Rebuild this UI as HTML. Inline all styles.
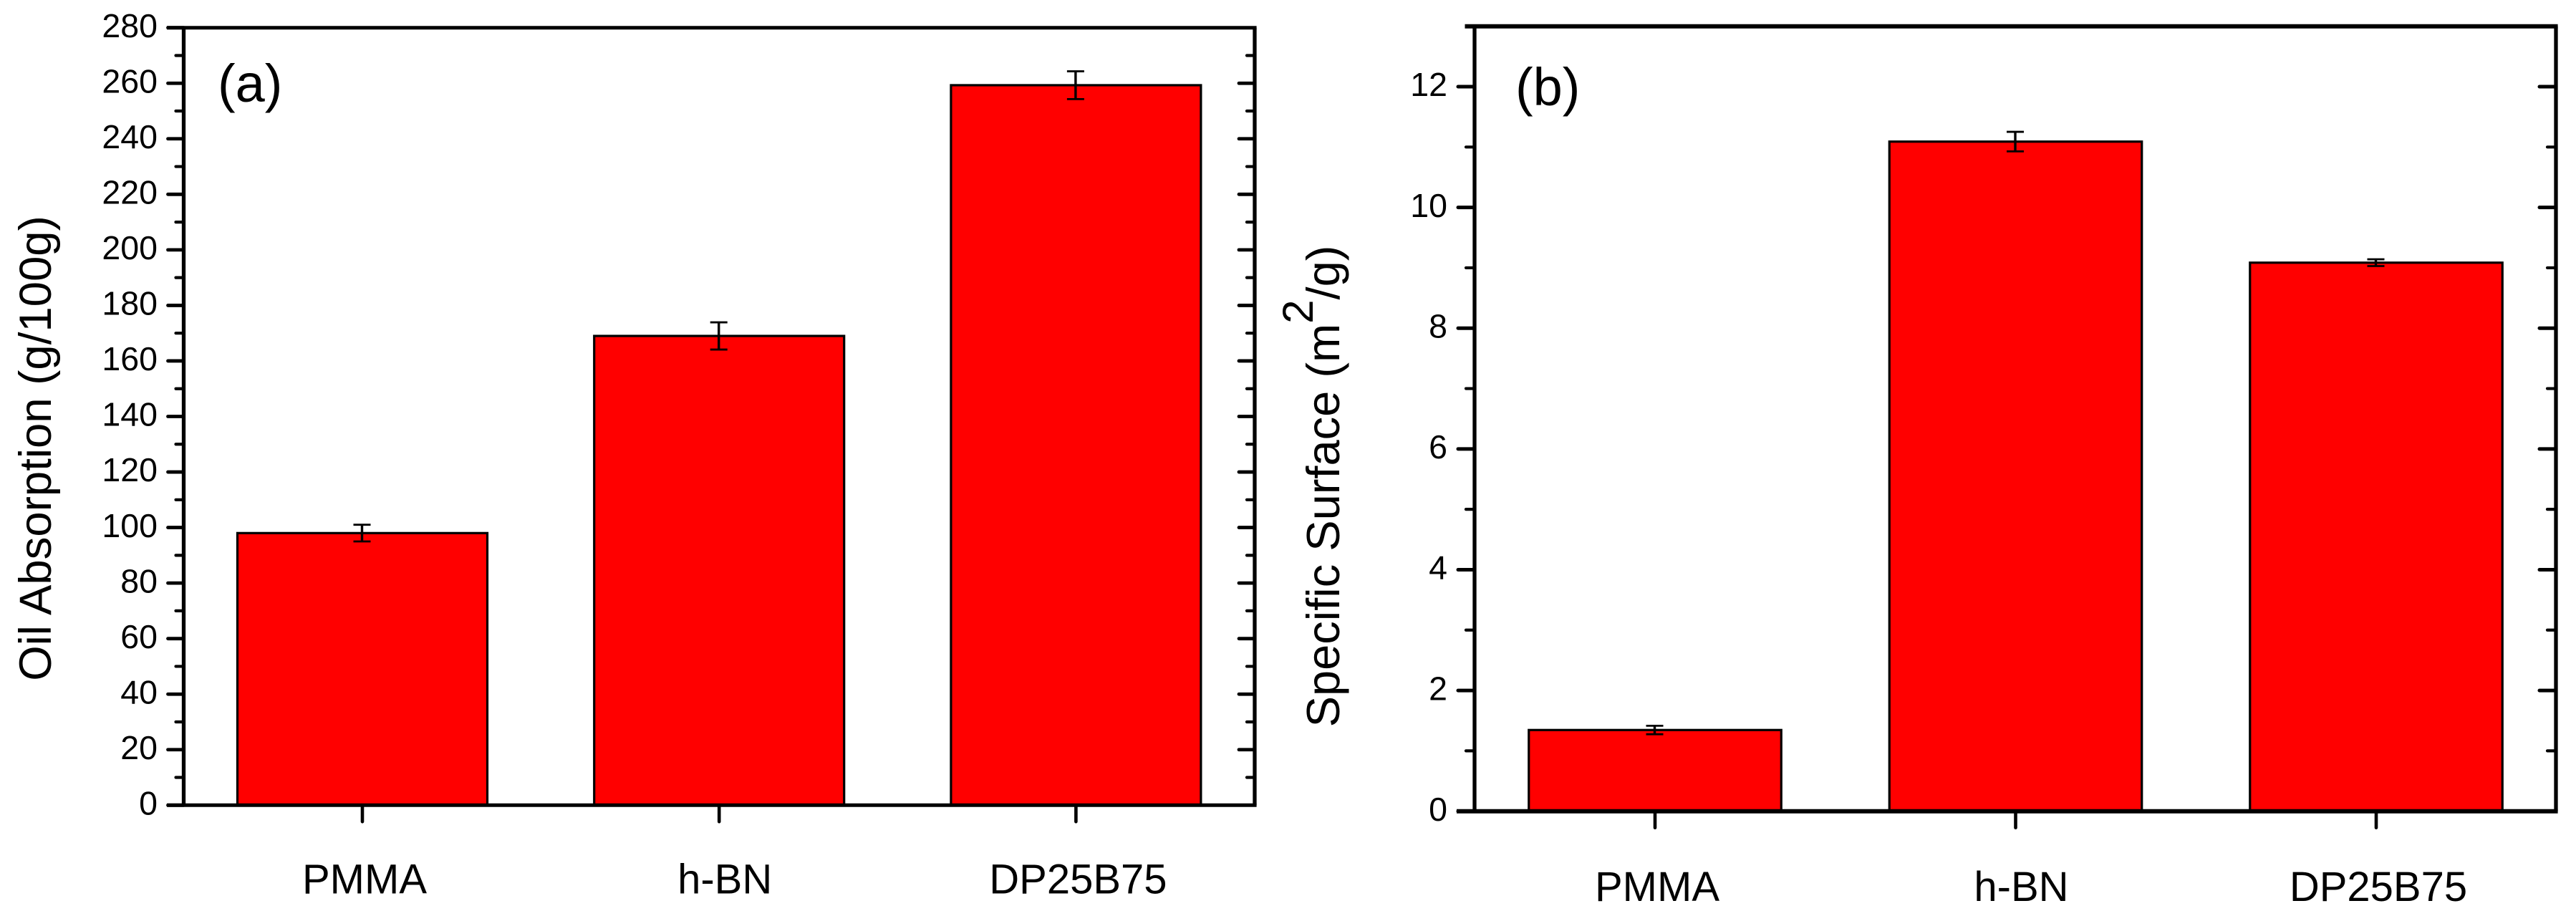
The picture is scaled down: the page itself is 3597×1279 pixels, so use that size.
<!DOCTYPE html>
<html lang="en">
<head>
<meta charset="utf-8">
<title>Oil absorption and specific surface bar charts</title>
<style>
html,body{margin:0;padding:0;background:#fff;}
svg{display:block;}
text{font-family:"Liberation Sans",Arial,sans-serif;fill:#000;}
</style>
</head>
<body>
<svg id="figure" xmlns="http://www.w3.org/2000/svg" width="3597" height="1279" viewBox="0 0 3597 1279">
  <rect x="0" y="0" width="3597" height="1279" fill="#fff"/>
  <g id="panel-a"></g>
  <g id="panel-b"></g>
  <text x="304" y="142" font-size="74">(a)</text>
  <text x="2116" y="147" font-size="74">(b)</text>
  <text transform="translate(71,626) rotate(-90)" text-anchor="middle" font-size="63.5">Oil Absorption (g/100g)</text>
  <text transform="translate(1870,679) rotate(-90)" text-anchor="middle" font-size="65">Specific Surface (m<tspan font-size="60" dy="-37">2</tspan><tspan dy="37">/g)</tspan></text>
</svg>
<script>
const categories = ['PMMA', 'h-BN', 'DP25B75'];
const oilValues = [98, 169, 259.3];
const oilErrors = [3, 4.9, 5];
const surfaceValues = [1.345, 11.09, 9.085];
const surfaceErrors = [0.07, 0.162, 0.056];
const oilMajorTicks = [0, 20, 40, 60, 80, 100, 120, 140, 160, 180, 200, 220, 240, 260, 280];
const oilMinorTicks = [10, 30, 50, 70, 90, 110, 130, 150, 170, 190, 210, 230, 250, 270];
const surfaceMajorTicks = [0, 2, 4, 6, 8, 10, 12];
const surfaceMinorTicks = [1, 3, 5, 7, 9, 11, 13];

const SVG_NS = 'http://www.w3.org/2000/svg';

function add(parent, tag, attrs, content) {
  const el = document.createElementNS(SVG_NS, tag);
  for (const key in attrs) { el.setAttribute(key, attrs[key]); }
  if (content !== undefined) { el.textContent = content; }
  parent.appendChild(el);
  return el;
}

function drawPanel(cfg) {
  const g = document.getElementById(cfg.id);
  const yScale = v => cfg.baseY - (v - cfg.yMin) * (cfg.baseY - cfg.topY) / (cfg.yMax - cfg.yMin);
  const xScale = i => cfg.firstX + i * cfg.stepX;

  cfg.values.forEach((value, i) => {
    const top = yScale(value);
    const bar = add(g, 'rect', {
      x: xScale(i) - cfg.barWidth / 2, y: top,
      width: cfg.barWidth, height: cfg.baseY - top,
      fill: '#ff0000', stroke: '#000', 'stroke-width': 3.2
    });
    
    

    const hi = yScale(value + cfg.errors[i]);
    const lo = yScale(value - cfg.errors[i]);
    const cx = xScale(i) - 0.5;
    const stem = add(g, 'line', { x1: cx, x2: cx, y1: hi, y2: lo, stroke: '#000', 'stroke-width': 3.4 });
    
    
    [hi, lo].forEach(capY => {
      const cap = add(g, 'line', { x1: cx - 12, x2: cx + 12, y1: capY, y2: capY, stroke: '#000', 'stroke-width': 2.8 });
      
      
    });
  });

  const tick = (x1, x2, y, w, name) => {
    const t = add(g, 'line', { x1: x1, x2: x2, y1: y, y2: y, stroke: '#000', 'stroke-width': w, 'stroke-linecap': 'round' });
    
    
  };

  cfg.majorTicks.forEach(v => {
    const y = yScale(v);
    tick(cfg.leftX - cfg.majorLen + 2, cfg.leftX, y, cfg.tickW, 'y-major-tick');
    if (v !== cfg.yMin && v !== cfg.yMax) {
      tick(cfg.rightX, cfg.rightX - cfg.majorLen + 2, y, cfg.tickW, 'y-major-tick-right');
    }
    const label = add(g, 'text', { x: cfg.labelRight, y: y + 13.2, 'text-anchor': 'end', 'font-size': 46.5 }, String(v));
    
    
  });
  cfg.minorTicks.forEach(v => {
    const y = yScale(v);
    if (v === cfg.yMax) { return; }
    tick(cfg.leftX - cfg.minorLen + 2, cfg.leftX, y, 4.2, 'y-minor-tick');
    tick(cfg.rightX, cfg.rightX - cfg.minorLen + 2, y, 4.2, 'y-minor-tick-right');
  });

  const frame = [
    { x1: cfg.leftX, x2: cfg.leftX, y1: cfg.topY, y2: cfg.baseY, w: 5.3, n: 'left-axis-line' },
    { x1: cfg.rightX, x2: cfg.rightX, y1: cfg.topY, y2: cfg.baseY, w: 5.3, n: 'right-axis-line' },
    { x1: cfg.frameLeft, x2: cfg.rightX + 2.6, y1: cfg.topY, y2: cfg.topY, w: cfg.frameW, n: 'top-axis-line' },
    { x1: cfg.baseLeft, x2: cfg.rightX + 2.6, y1: cfg.baseY, y2: cfg.baseY, w: cfg.frameW, n: 'bottom-axis-line' }
  ];
  frame.forEach(f => {
    const line = add(g, 'line', { x1: f.x1, x2: f.x2, y1: f.y1, y2: f.y2, stroke: '#000', 'stroke-width': f.w });
    
    
  });

  categories.forEach((name, i) => {
    const t = add(g, 'line', { x1: xScale(i), x2: xScale(i), y1: cfg.baseY, y2: cfg.baseY + 23, stroke: '#000', 'stroke-width': 4.6, 'stroke-linecap': 'round' });
    
    
    const nudge = name === 'h-BN' ? 8 : 3;
    const label = add(g, 'text', { x: xScale(i) + nudge, y: cfg.catBaseline, 'text-anchor': 'middle', 'font-size': 58 }, name);
    
    
  });
}

drawPanel({
  id: 'panel-a', values: oilValues, errors: oilErrors,
  majorTicks: oilMajorTicks, minorTicks: oilMinorTicks,
  yMin: 0, yMax: 280, baseY: 1124.3, topY: 38.7,
  firstX: 506, stepX: 498.2, barWidth: 349,
  leftX: 256.5, rightX: 1752, frameLeft: 233, baseLeft: 233,
  majorLen: 24, minorLen: 13, tickW: 4.8, frameW: 5,
  labelRight: 220, catBaseline: 1247.7
});
drawPanel({
  id: 'panel-b', values: surfaceValues, errors: surfaceErrors,
  majorTicks: surfaceMajorTicks, minorTicks: surfaceMinorTicks,
  yMin: 0, yMax: 13, baseY: 1132.7, topY: 36.7,
  firstX: 2311, stepX: 503.5, barWidth: 352.5,
  leftX: 2059, rightX: 3569, frameLeft: 2045.5, baseLeft: 2034,
  majorLen: 25, minorLen: 14, tickW: 5, frameW: 6,
  labelRight: 2021, catBaseline: 1258
});
</script>
</body>
</html>
